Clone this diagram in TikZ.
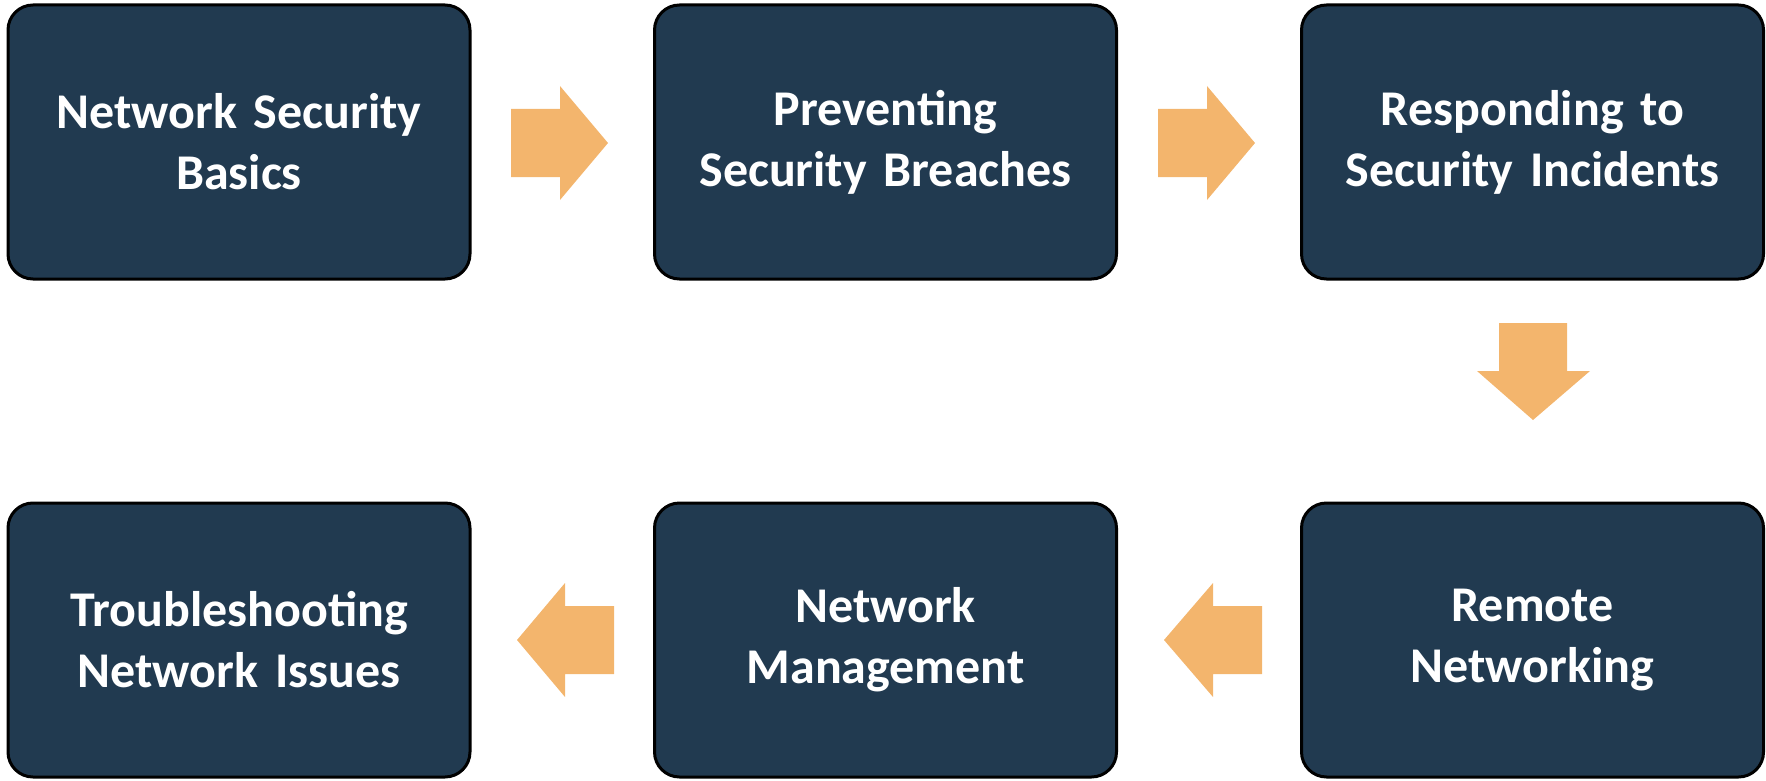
\documentclass[tikz,border=0pt]{standalone}
\usepackage{fontspec}
\setmainfont{Carlito}
\definecolor{boxfill}{HTML}{213A50}
\definecolor{arrowc}{HTML}{F3B56D}
\tikzset{
  stepbox/.style={draw=black, line width=3pt, fill=boxfill, rounded corners=25pt,
    minimum width=462pt, minimum height=274pt, text width=440pt, align=center,
    text=white, font=\fontsize{50}{61}\selectfont\bfseries, inner sep=0pt},
  blockarrow/.style={fill=arrowc}
}
\begin{document}
\begin{tikzpicture}[x=1pt,y=-1pt]
\useasboundingbox (0,0) rectangle (1766,781);
\node[stepbox] (b1) at (239,142) {Network Security\\Basics};
\node[stepbox] (b2) at (885.5,142) {Preventing\\Security Breaches};
\node[stepbox] (b3) at (1532.5,142) {Responding to\\Security Incidents};
\node[stepbox] (b4) at (1532.5,640) {Remote\\Networking};
\node[stepbox] (b5) at (885.5,640) {Network\\Management};
\node[stepbox] (b6) at (239,640) {Troubleshooting\\Network Issues};
% right arrows
\fill[blockarrow] (511,109) -- (560,109) -- (560,86) -- (608,143) -- (560,200) -- (560,177) -- (511,177) -- cycle;
\fill[blockarrow] (1158,109) -- (1207,109) -- (1207,86) -- (1255,143) -- (1207,200) -- (1207,177) -- (1158,177) -- cycle;
% down arrow
\fill[blockarrow] (1499,323) -- (1567,323) -- (1567,371) -- (1590,371) -- (1533,420) -- (1477,371) -- (1499,371) -- cycle;
% left arrows
\fill[blockarrow] (1262,606) -- (1213,606) -- (1213,583) -- (1164,640) -- (1213,697) -- (1213,674) -- (1262,674) -- cycle;
\fill[blockarrow] (614,606) -- (565,606) -- (565,583) -- (517,640) -- (565,697) -- (565,674) -- (614,674) -- cycle;
\end{tikzpicture}
\end{document}
